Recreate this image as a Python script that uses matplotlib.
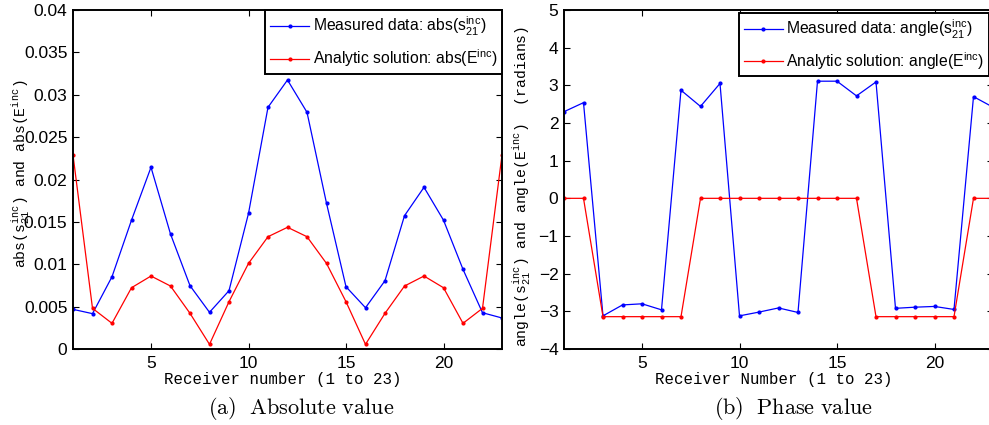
import numpy as np
import matplotlib
matplotlib.use("Agg")
import matplotlib.pyplot as plt

plt.rcParams['font.family'] = ['Liberation Sans', 'DejaVu Sans']
plt.rcParams['mathtext.fontset'] = 'custom'
plt.rcParams['mathtext.sf'] = 'Liberation Sans'
plt.rcParams['mathtext.rm'] = 'Liberation Sans'
plt.rcParams['mathtext.tt'] = 'Liberation Mono'

# receiver numbers 1..23
receivers = list(range(1, 24))

# absolute value, measured s21 and analytic E
abs_measured = [0.00468, 0.00417, 0.00853, 0.0152, 0.02144, 0.01357, 0.00747, 0.00433,
                0.00688, 0.0160, 0.02852, 0.03174, 0.02793, 0.0172, 0.00735, 0.00487,
                0.00806, 0.01573, 0.01908, 0.0152, 0.0094, 0.00428, 0.00366]
abs_analytic = [0.0229, 0.0048, 0.00303, 0.00723, 0.00861, 0.00743, 0.00421, 0.00055,
                0.00558, 0.0101, 0.01325, 0.01436, 0.01325, 0.0101, 0.00558, 0.00055,
                0.00421, 0.00743, 0.00861, 0.00723, 0.00303, 0.0048, 0.0229]

# phase (radians)
ang_measured = [2.30, 2.54, -3.12, -2.83, -2.80, -2.96, 2.87, 2.44, 3.05, -3.12,
                -3.02, -2.91, -3.03, 3.11, 3.11, 2.72, 3.09, -2.92, -2.89, -2.87,
                -2.95, 2.70, 2.42]
ang_analytic = [0, 0, -3.1416, -3.1416, -3.1416, -3.1416, -3.1416, 0, 0, 0,
                0, 0, 0, 0, 0, 0, -3.1416, -3.1416, -3.1416, -3.1416,
                -3.1416, 0, 0]

W, H = 989, 425
fig = plt.figure(figsize=(W / 100, H / 100), dpi=100)

def axes_px(x0, x1, y0, y1):
    return fig.add_axes([x0 / W, 1 - y1 / H, (x1 - x0) / W, (y1 - y0) / H])

ax1 = axes_px(73, 502, 10, 349)
ax2 = axes_px(564, 993, 10, 349)

def style(ax):
    for s in ax.spines.values():
        s.set_linewidth(1.4)
    ax.tick_params(direction='in', top=True, right=True, length=4.5, width=0.8,
                   labelsize=12.5)
    ax.tick_params(axis='x', pad=5)
    ax.tick_params(axis='y', pad=4)
    ax.set_xlim(1, 23)
    ax.set_xticks([5, 10, 15, 20])

leg_kw = dict(borderaxespad=0, fontsize=11.3, handlelength=2.5, handletextpad=0.2,
              labelspacing=0.6, fancybox=False, framealpha=1, edgecolor='black',
              borderpad=0.3)

# left panel
ax1.plot(receivers, abs_measured, color='blue', lw=0.9, marker='.', ms=4,
         label=r'Measured data: abs(s$_{\mathsf{21}}^{\mathsf{inc}}$)')
ax1.plot(receivers, abs_analytic, color='red', lw=0.9, marker='.', ms=4,
         label=r'Analytic solution: abs(E$^{\mathsf{inc}}$)')
style(ax1)
ax1.set_ylim(0, 0.04)
ax1.set_yticks(np.arange(0, 0.0401, 0.005))
ax1.set_yticklabels(['0', '0.005', '0.01', '0.015', '0.02', '0.025', '0.03', '0.035', '0.04'])
ax1.set_xlabel('Receiver number (1 to 23)', family='Liberation Mono', fontsize=11.3)
ax1.xaxis.set_label_coords(0.49, -0.068)
leg1 = ax1.legend(loc='upper right', bbox_to_anchor=(1, 1), **leg_kw)
leg1.get_frame().set_linewidth(1.4)

# right panel
ax2.plot(receivers, ang_measured, color='blue', lw=0.9, marker='.', ms=4,
         label=r'Measured data: angle(s$_{\mathsf{21}}^{\mathsf{inc}}$)')
ax2.plot(receivers, ang_analytic, color='red', lw=0.9, marker='.', ms=4,
         label=r'Analytic solution: angle(E$^{\mathsf{inc}}$)')
style(ax2)
ax2.set_ylim(-4, 5)
ax2.set_yticks(range(-4, 6))
ax2.set_xlabel('Receiver Number (1 to 23)', family='Liberation Mono', fontsize=11.3)
ax2.xaxis.set_label_coords(0.49, -0.068)
leg2 = ax2.legend(loc='upper left', bbox_to_anchor=(0.408, 0.992), **leg_kw)
leg2.get_frame().set_linewidth(1.4)

# y labels in mono font
fig.text(21 / W, 1 - 174 / H,
         r'abs(s$_{\mathtt{21}}^{\mathtt{inc}}$) and abs(E$^{\mathtt{inc}}$)',
         family='Liberation Mono', fontsize=10.6, rotation=90,
         ha='center', va='center')
fig.text(522 / W, 1 - 186 / H,
         r'angle(s$_{\mathtt{21}}^{\mathtt{inc}}$) and angle(E$^{\mathtt{inc}}$)  (radians)',
         family='Liberation Mono', fontsize=10.6, rotation=90,
         ha='center', va='center')

# captions
fig.text(301 / W, 1 - 408 / H, r'$\mathrm{(a)\ \ Absolute\ value}$',
         math_fontfamily='cm', fontsize=16, ha='center', va='center')
fig.text(793 / W, 1 - 408 / H, r'$\mathrm{(b)\ \ Phase\ value}$',
         math_fontfamily='cm', fontsize=16, ha='center', va='center')

fig.savefig('out.png', dpi=100)
